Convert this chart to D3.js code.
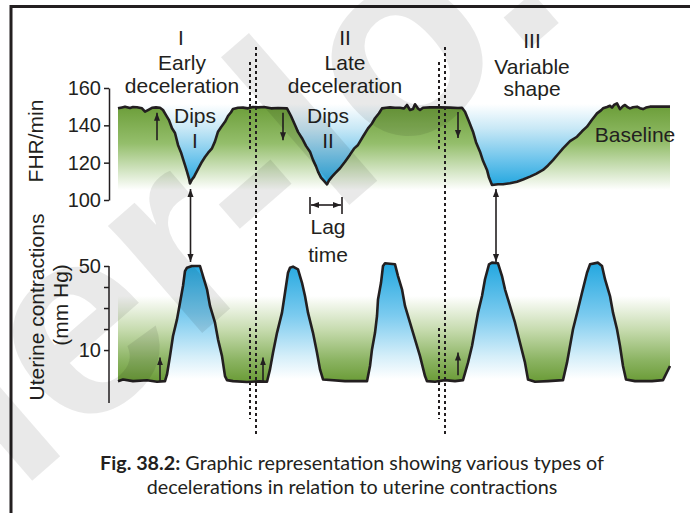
<!doctype html>
<html lang="en">
<head>
  <meta charset="utf-8">
  <title>Fig. 38.2 Decelerations</title>
  <script src="https://cdnjs.cloudflare.com/ajax/libs/d3/7.8.5/d3.min.js"></script>
  <style>
    body { margin: 0; background: #fff; }
    svg text { font-family: "Liberation Sans", Arial, sans-serif; fill: #231f20; }
  </style>
</head>
<body>
  <svg width="690" height="513" id="svg"></svg>

<script>
  // FHR trace (time units, beats/min)
  var fhrTime = [0,4,7,12,15,19,24,27,30,34,38,42,45,48,51,54,57,60,63,65,67,69,71,72,74,76,77,80,84,87,90,94,97,100,103,107,110,113,115,120,125,130,135,140,146,153,160,169,173,177,180,184,188,192,195,198,200,203,206,209,211,214,217,222,227,232,236,240,245,250,254,257,261,264,268,272,277,282,286,289,292,295,297,300,302,305,312,322,332,340,344,347,351,355,358,362,365,369,371,374,380,385,392,399,405,412,418,425,430,435,440,445,452,459,464,469,474,479,483,485,489,492,494,496,499,502,505,507,510,512,515,519,522,525,528,532,540,546,552];
  var fhrRate = [149.1,149.6,150.0,149.3,149.8,149.7,149.1,147.3,148.2,149.4,149.6,149.4,148.2,145.5,142.8,138.4,135.9,129.5,125.5,122.0,118.7,115.2,111.5,108.9,111.0,112.4,113.4,116.5,120.5,123.0,125.2,127.7,131.4,136.6,139.0,141.9,145.0,147.0,148.8,149.4,149.5,149.1,149.8,149.6,149.8,149.1,149.3,149.1,145.0,140.2,136.5,133.1,129.0,125.9,121.5,118.0,115.2,112.0,110.2,108.4,110.5,112.5,114.3,117.0,120.5,124.3,127.5,129.5,134.0,138.4,141.0,143.8,146.5,149.1,149.4,149.6,149.4,149.4,149.0,150.9,148.2,148.7,151.3,149.0,148.2,149.4,149.6,149.6,149.5,149.3,149.4,147.3,142.0,136.6,131.0,125.9,121.0,116.1,112.0,108.0,108.4,108.4,109.0,109.8,111.0,112.5,114.0,116.1,118.5,121.4,124.5,127.7,131.5,133.9,136.8,139.3,143.0,146.4,148.0,149.1,149.8,150.5,149.5,150.9,151.8,148.7,150.3,150.9,149.6,149.1,149.7,150.0,149.2,148.7,149.5,150.0,150.0,150.1,150.0];

  // uterine contraction trace (time units, mm Hg)
  var ucTime = [0,5,15,29,39,47,49,52,55,59,62,65,67,69,74,82,85,89,92,97,100,104,107,109,115,129,142,149,152,155,159,164,167,170,172,175,180,184,187,190,195,199,202,205,227,249,252,254,257,259,260,263,265,267,277,280,284,287,292,297,302,307,309,317,327,337,345,350,354,357,360,364,367,371,374,380,384,387,392,397,402,407,410,417,430,445,449,452,455,460,464,469,472,480,484,487,492,495,499,502,505,508,517,534,545,552];
  var ucPressure = [-4.8,-4.0,-4.8,-4.4,-5.1,-4.8,-1.6,7.1,16.7,24.6,32.5,40.5,47.6,49.2,50.0,50.0,45.2,38.9,31.0,23.0,15.1,7.1,-2.4,-4.3,-4.8,-5.2,-4.9,-5.1,0.8,8.7,18.2,27.8,37.3,46.8,49.2,49.7,48.4,42.0,35.7,27.8,18.2,8.7,0.8,-4.0,-4.8,-4.8,2.4,10.3,18.2,26.2,34.1,42.0,50.0,51.3,50.8,45.2,38.9,31.0,23.0,15.1,7.1,-2.4,-4.8,-5.1,-4.3,-4.8,-4.3,4.0,11.9,19.9,27.8,35.7,43.7,50.8,51.6,51.3,45.2,38.9,31.0,23.0,13.5,4.0,-4.0,-5.1,-4.8,-4.3,4.0,11.9,19.9,29.4,37.3,46.8,50.8,51.6,50.0,43.7,35.7,27.8,19.9,11.9,2.4,-4.0,-4.8,-4.8,-4.3,2.4];

  var fhrTicks = [100, 120, 140, 160];
  var ucTicks = [10, 20, 30, 40, 50];
  var ucTickLabels = ['10', '', '', '', '50'];
  var dividerTimes = [138, 327];        // long dashed lines
  var shortDividerTimes = [132, 321];   // short dashed companions

  var svg = d3.select('#svg');
  var ink = '#231f20';

  var x = d3.scaleLinear().domain([0, 552]).range([118, 670]);
  var yF = d3.scaleLinear().domain([100, 160]).range([200, 88]);
  var yU = d3.scaleLinear().domain([-15.2, 50]).range([403, 266]);

  var fhr = fhrTime.map(function(t, i) { return {t: t, v: fhrRate[i]}; });
  var uc = ucTime.map(function(t, i) { return {t: t, v: ucPressure[i]}; });

  var defs = svg.append('defs');

  function grad(id, y1, y2, stops) {
    var g = defs.append('linearGradient').attr('id', id)
      .attr('gradientUnits', 'userSpaceOnUse')
      .attr('x1', 0).attr('x2', 0).attr('y1', y1).attr('y2', y2);
    stops.forEach(function(s) {
      g.append('stop').attr('offset', s[0]).attr('stop-color', s[1]);
    });
  }
  grad('fhrGreen', 105, 190, [[0, '#6b9d38'], [0.45, '#94be6b'], [0.8, '#d8e8ca'], [1, '#ffffff']]);
  grad('fhrBlue', 104, 186, [[0, '#ffffff'], [0.3, '#c8e8f6'], [0.7, '#68c2eb'], [1, '#22a6df']]);
  grad('ucBlue', 264, 379, [[0, '#25a8e0'], [0.45, '#7ccbef'], [0.8, '#d4eef9'], [1, '#ffffff']]);
  grad('ucGreen', 296, 381, [[0, '#ffffff'], [0.4, '#c6dbae'], [0.75, '#8cb463'], [1, '#6b9c38']]);

  var head = defs.append('marker').attr('id', 'head')
    .attr('viewBox', '0 0 10 10').attr('refX', 10).attr('refY', 5)
    .attr('markerUnits', 'userSpaceOnUse')
    .attr('markerWidth', 8).attr('markerHeight', 8)
    .attr('orient', 'auto-start-reverse');
  head.append('path').attr('d', 'M0,1.2 L10,5 L0,8.8 Z').attr('fill', ink);

  // shaded bands
  svg.append('path').datum(fhr)
    .attr('d', d3.area().x(function(d) { return x(d.t); }).y0(190).y1(function(d) { return yF(d.v); }))
    .attr('fill', 'url(#fhrGreen)');
  svg.append('path').datum(fhr)
    .attr('d', d3.area().x(function(d) { return x(d.t); }).y0(102).y1(function(d) { return yF(d.v); }))
    .attr('fill', 'url(#fhrBlue)');
  svg.append('path').datum(uc)
    .attr('d', d3.area().x(function(d) { return x(d.t); }).y0(381.5).y1(function(d) { return yU(d.v); }))
    .attr('fill', 'url(#ucBlue)');
  svg.append('path').datum(uc)
    .attr('d', d3.area().x(function(d) { return x(d.t); }).y0(258).y1(function(d) { return yU(d.v); }))
    .attr('fill', 'url(#ucGreen)');

  // traces
  var lineF = d3.line().x(function(d) { return x(d.t); }).y(function(d) { return yF(d.v); });
  var lineU = d3.line().x(function(d) { return x(d.t); }).y(function(d) { return yU(d.v); });
  [[fhr, lineF], [uc, lineU]].forEach(function(p) {
    svg.append('path').datum(p[0]).attr('d', p[1])
      .attr('fill', 'none').attr('stroke', ink)
      .attr('stroke-width', 2.6).attr('stroke-linejoin', 'round');
  });

  // axes
  var axF = svg.append('g').attr('transform', 'translate(109,0)')
    .call(d3.axisLeft(yF).tickValues(fhrTicks).tickSize(5).tickSizeOuter(0).tickPadding(3));
  var axU = svg.append('g').attr('transform', 'translate(109,0)')
    .call(d3.axisLeft(yU).tickValues(ucTicks).tickSize(5).tickSizeOuter(0).tickPadding(3)
      .tickFormat(function(d, i) { return ucTickLabels[i]; }));
  [axF, axU].forEach(function(a) {
    a.selectAll('.domain, line').attr('stroke', ink).attr('stroke-width', 1.5);
    a.selectAll('text').attr('font-size', 20).attr('font-family', '"Liberation Sans", Arial, sans-serif')
      .attr('fill', ink);
  });
  axU.select('.domain').remove();
  axU.append('line').attr('x1', 0).attr('x2', 0).attr('y1', yU(50)).attr('y2', 403)
    .attr('stroke', ink).attr('stroke-width', 1.5);

  // dashed dividers
  dividerTimes.forEach(function(t) {
    svg.append('line').attr('x1', x(t)).attr('x2', x(t)).attr('y1', 47).attr('y2', 434)
      .attr('stroke', ink).attr('stroke-width', 2).attr('stroke-dasharray', '3,3');
  });
  shortDividerTimes.forEach(function(t) {
    [[62, 150], [328, 419]].forEach(function(s) {
      svg.append('line').attr('x1', x(t)).attr('x2', x(t)).attr('y1', s[0]).attr('y2', s[1])
        .attr('stroke', ink).attr('stroke-width', 2).attr('stroke-dasharray', '3,3');
    });
  });

  // arrows
  function arrow(x1, y1, x2, y2, both) {
    var l = svg.append('line').attr('x1', x1).attr('y1', y1).attr('x2', x2).attr('y2', y2)
      .attr('stroke', ink).attr('stroke-width', 1.6).attr('marker-end', 'url(#head)');
    if (both) l.attr('marker-start', 'url(#head)');
  }
  arrow(x(39), yF(132), x(39), yF(146.8));
  arrow(x(165), yF(146.8), x(165), yF(132));
  arrow(x(340), yF(147.2), x(340), yF(133.2));
  arrow(x(72.5), 189, x(72.5), 262, true);
  arrow(x(378), 189, x(378), 262, true);
  arrow(x(42), yU(-4.8), x(42), yU(6.5));
  arrow(x(145), yU(-4.8), x(145), yU(6.5));
  arrow(x(340), yU(-2), x(340), yU(8.8));
  arrow(x(192) + 1, 205, x(224) - 1, 205, true);
  [192, 224].forEach(function(t) {
    svg.append('line').attr('x1', x(t)).attr('x2', x(t)).attr('y1', 197).attr('y2', 214)
      .attr('stroke', ink).attr('stroke-width', 1.6);
  });

  // labels
  function label(px, py, str, size) {
    return svg.append('text').attr('x', px).attr('y', py).attr('text-anchor', 'middle')
      .attr('font-size', size || 21).text(str);
  }
  label(181, 45, 'I'); label(182, 70, 'Early'); label(182, 93, 'deceleration');
  label(345, 45, 'II'); label(345, 70, 'Late'); label(345, 93, 'deceleration');
  label(532, 48, 'III'); label(532, 74, 'Variable'); label(532, 96, 'shape');
  label(195, 123, 'Dips'); label(195, 148, 'I');
  label(328, 123, 'Dips'); label(328, 148, 'II');
  label(635, 142, 'Baseline');
  label(328, 234, 'Lag'); label(328, 262, 'time');

  svg.append('text').attr('transform', 'translate(43,141) rotate(-90)')
    .attr('text-anchor', 'middle').attr('font-size', 21).text('FHR/min');
  svg.append('text').attr('transform', 'translate(44,307) rotate(-90)')
    .attr('text-anchor', 'middle').attr('font-size', 21).text('Uterine contractions');
  svg.append('text').attr('transform', 'translate(68,305) rotate(-90)')
    .attr('text-anchor', 'middle').attr('font-size', 21).text('(mm Hg)');

  // caption
  var capFont = 'Lato, "Open Sans", sans-serif';
  var cap1 = svg.append('text').attr('x', 352).attr('y', 470).attr('text-anchor', 'middle')
    .attr('font-size', 18).style('font-family', capFont);
  cap1.append('tspan').attr('font-weight', 'bold').text('Fig. 38.2:');
  cap1.append('tspan').text(' Graphic representation showing various types of');
  var cap2 = svg.append('text').attr('x', 352).attr('y', 494).attr('text-anchor', 'middle')
    .attr('font-size', 18).style('font-family', capFont)
    .text('decelerations in relation to uterine contractions');
  var fit = 18 * 411 / cap2.node().getComputedTextLength();
  cap1.attr('font-size', fit); cap2.attr('font-size', fit);

  // frame
  svg.append('path').attr('d', 'M11,513 V6.5 H690').attr('fill', 'none')
    .attr('stroke', ink).attr('stroke-width', 3);

  // watermark
  svg.append('text').attr('transform', 'translate(18,493) rotate(-41)')
    .attr('font-size', 270).attr('font-weight', 'bold')
    .style('fill', '#000').style('fill-opacity', 0.085)
    .text('ler-lo.');
</script>
</body>
</html>
